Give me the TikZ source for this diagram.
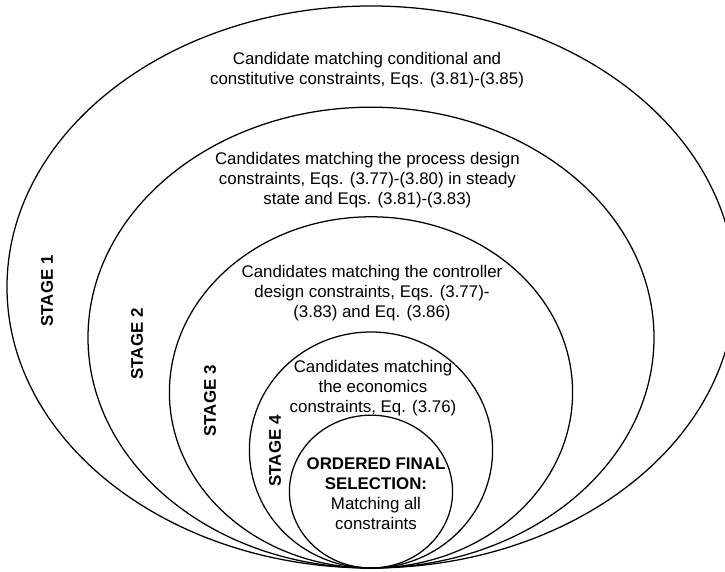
\documentclass[tikz,border=0pt]{standalone}
\usepackage{fontspec}
\setmainfont{Liberation Sans}
\usepackage{tikz}

\tikzset{
ring/.style={line width=0.9pt},
lbl/.style={align=center,font=\fontsize{12}{14.2}\selectfont},
stagelbl/.style={rotate=90,font=\fontsize{12}{14}\selectfont\bfseries}
}

\begin{document}
\begin{tikzpicture}[scale=1]
\useasboundingbox (-9.275,-0.1) rectangle (8.85,14.2);

% nested stages, all touching at the bottom
\foreach \rx/\ry in {9.1/7.025,7.075/5.76,5.04/4.39,3.04/2.95,2.04/1.91}
{
\draw[ring] (0,\ry) ellipse ({\rx} and {\ry});
}

\node[lbl] (t1) at (-0.1,12.45) {Candidate matching conditional and\\constitutive constraints, Eqs. (3.81)-(3.85)};
\node[lbl] (t2) at (-0.09,9.7) {Candidates matching the process design\\constraints, Eqs. (3.77)-(3.80) in steady\\state and Eqs. (3.81)-(3.83)};
\node[lbl] (t3) at (0.025,6.875) {Candidates matching the controller\\design constraints, Eqs. (3.77)-\\(3.83) and Eq. (3.86)};
\node[lbl] (t4) at (0.05,4.5) {Candidates matching\\the economics\\constraints, Eq. (3.76)};
\node[lbl] (t5) at (0.125,1.85) {\textbf{ORDERED FINAL}\\\textbf{SELECTION:}\\Matching all\\constraints};

\node[stagelbl] (s1) at (-8.1,6.925) {STAGE 1};
\node[stagelbl] (s2) at (-5.85,5.6) {STAGE 2};
\node[stagelbl] (s3) at (-4.025,4.175) {STAGE 3};
\node[stagelbl] (s4) at (-2.4,2.925) {STAGE 4};
\end{tikzpicture}
\end{document}
